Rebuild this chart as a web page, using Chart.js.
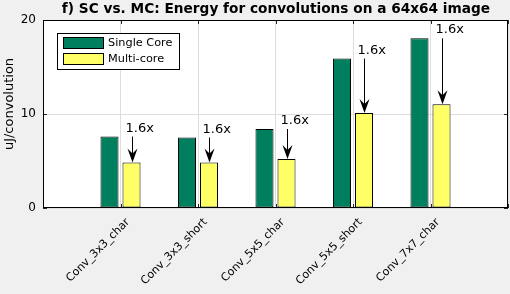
<!DOCTYPE html>
<html lang="en">
<head>
<meta charset="UTF-8">
<title>SC vs. MC energy</title>
<script src="https://cdn.jsdelivr.net/npm/chart.js"></script>
<style>
  html, body { margin: 0; padding: 0; background: #f0f0f0; }
  #wrap { width: 510px; height: 294px; }
</style>
</head>
<body>
<div id="wrap"><canvas id="energyChart" width="510" height="294"></canvas></div>
<script>
// empty slots at both ends keep the axis running from 0 to 6 like the original
const categories = ['', 'Conv_3x3_char', 'Conv_3x3_short', 'Conv_5x5_char', 'Conv_5x5_short', 'Conv_7x7_char', ''];
const singleCore = [null, 7.6, 7.5, 8.4, 15.9, 18.05, null];
const multiCore = [null, 4.85, 4.85, 5.2, 10.1, 11.05, null];
const speedupLabels = [null, '1.6x', '1.6x', '1.6x', '1.6x', '1.6x', null];
const yTicks = [0, 10, 20];
const chartTitle = 'f) SC vs. MC: Energy for convolutions on a 64x64 image';
const yTitle = 'uJ/convolution';

const FONT = 'DejaVu Sans';

// white plot area on the grey figure
const plotBackground = {
  id: 'plotBackground',
  beforeDraw(chart) {
    const { ctx, chartArea: a } = chart;
    ctx.save();
    ctx.fillStyle = '#ffffff';
    ctx.fillRect(a.left, a.top, a.right - a.left, a.bottom - a.top);
    ctx.restore();
  }
};

// matlab-style texts, box, inner ticks, speedup arrows and the legend
const overlay = {
  id: 'overlay',
  afterDatasetsDraw(chart) {
    const { ctx, chartArea: a, scales } = chart;
    const x = scales.x, y = scales.y;
    ctx.save();

    // title, centred over the axes
    ctx.fillStyle = '#000';
    ctx.font = 'bold 13.7px ' + FONT;
    ctx.textAlign = 'center';
    ctx.textBaseline = 'alphabetic';
    ctx.fillText(chartTitle, (a.left + a.right) / 2 + 0.5, 13);

    // y axis title
    ctx.save();
    ctx.translate(10, (a.top + a.bottom) / 2 - 10);
    ctx.rotate(-Math.PI / 2);
    ctx.font = '13px ' + FONT;
    ctx.textBaseline = 'middle';
    ctx.fillText(yTitle, 0, 0);
    ctx.restore();

    // rotated category labels
    ctx.font = '11.1px ' + FONT;
    ctx.textAlign = 'right';
    ctx.textBaseline = 'middle';
    categories.forEach((c, i) => {
      if (!c) return;
      ctx.save();
      ctx.translate(x.getPixelForValue(i) + 7.5, a.bottom + 12.5);
      ctx.rotate(-Math.PI / 4);
      ctx.fillText(c, 0, 0);
      ctx.restore();
    });

    // speedup arrows
    const mc = chart.getDatasetMeta(1).data;
    ctx.strokeStyle = '#000';
    ctx.fillStyle = '#000';
    ctx.lineWidth = 1;
    ctx.font = '13px ' + FONT;
    ctx.textAlign = 'left';
    ctx.textBaseline = 'alphabetic';
    speedupLabels.forEach((lbl, i) => {
      if (!lbl) return;
      const px = Math.round(mc[i].x) + 0.5;
      const top = y.getPixelForValue(singleCore[i]);
      const tip = mc[i].y;
      ctx.beginPath();
      ctx.moveTo(px, top);
      ctx.lineTo(px, tip - 6);
      ctx.stroke();
      ctx.beginPath();
      ctx.moveTo(px, tip);
      ctx.lineTo(px - 5, tip - 14);
      ctx.lineTo(px, tip - 9);
      ctx.lineTo(px + 5, tip - 14);
      ctx.closePath();
      ctx.fill();
      ctx.fillText(lbl, px - 7, top - 5);
    });

    // inner tick marks
    ctx.strokeStyle = '#262626';
    categories.forEach((c, i) => {
      const px = Math.round(x.getPixelForValue(i)) + 0.5;
      ctx.beginPath();
      ctx.moveTo(px, a.top); ctx.lineTo(px, a.top + 4);
      ctx.moveTo(px, a.bottom); ctx.lineTo(px, a.bottom - 4);
      ctx.stroke();
    });
    yTicks.forEach(v => {
      const py = Math.round(y.getPixelForValue(v)) + 0.5;
      ctx.beginPath();
      ctx.moveTo(a.left, py); ctx.lineTo(a.left + 4, py);
      ctx.moveTo(a.right, py); ctx.lineTo(a.right - 4, py);
      ctx.stroke();
    });

    // axes box
    ctx.strokeStyle = '#000';
    ctx.strokeRect(Math.round(a.left) + 0.5, Math.round(a.top) + 0.5,
      Math.round(a.right - a.left) - 1, Math.round(a.bottom - a.top) - 1);

    // legend
    const lx = a.left + 14, ly = a.top + 13;
    ctx.fillStyle = '#fff';
    ctx.fillRect(lx, ly, 122, 36);
    ctx.strokeRect(lx + 0.5, ly + 0.5, 122, 36);
    ctx.font = '11.3px ' + FONT;
    ctx.textBaseline = 'middle';
    chart.data.datasets.forEach((ds, k) => {
      const ry = ly + 4 + k * 16;
      ctx.fillStyle = ds.backgroundColor;
      ctx.fillRect(lx + 6, ry, 40, 11);
      ctx.strokeRect(lx + 6.5, ry + 0.5, 40, 11);
      ctx.fillStyle = '#000';
      ctx.fillText(ds.label, lx + 51, ry + 6);
    });
    ctx.restore();
  }
};

new Chart(document.getElementById('energyChart'), {
  type: 'bar',
  data: {
    labels: categories,
    datasets: [
      { label: 'Single Core', data: singleCore, backgroundColor: '#007f5f', borderColor: '#000', borderWidth: 1, borderSkipped: false },
      { label: 'Multi-core', data: multiCore, backgroundColor: '#ffff66', borderColor: '#000', borderWidth: 1, borderSkipped: false }
    ]
  },
  options: {
    responsive: false,
    animation: false,
    devicePixelRatio: 1,
    layout: { padding: { right: 2, top: 20, left: 0, bottom: 0 } },
    datasets: { bar: { categoryPercentage: 0.568, barPercentage: 0.82 } },
    plugins: {
      legend: { display: false },
      tooltip: { enabled: false },
      title: { display: false }
    },
    scales: {
      x: {
        type: 'category',
        offset: false,
        grid: { offset: false, color: '#dedede', drawTicks: false },
        border: { display: false },
        ticks: { display: false },
        afterFit(scale) {
          scale.height = 86;
          scale.paddingLeft = 0;
          scale.paddingRight = 0;
        }
      },
      y: {
        min: 0, max: 20,
        grid: { color: '#dedede', drawTicks: false },
        border: { display: false },
        ticks: { padding: 7, color: '#000', font: { family: FONT, size: 12 } },
        afterBuildTicks(scale) { scale.ticks = yTicks.map(v => ({ value: v })); },
        afterFit(scale) { scale.width = 43; }
      }
    }
  },
  plugins: [plotBackground, overlay]
});
</script>
</body>
</html>
